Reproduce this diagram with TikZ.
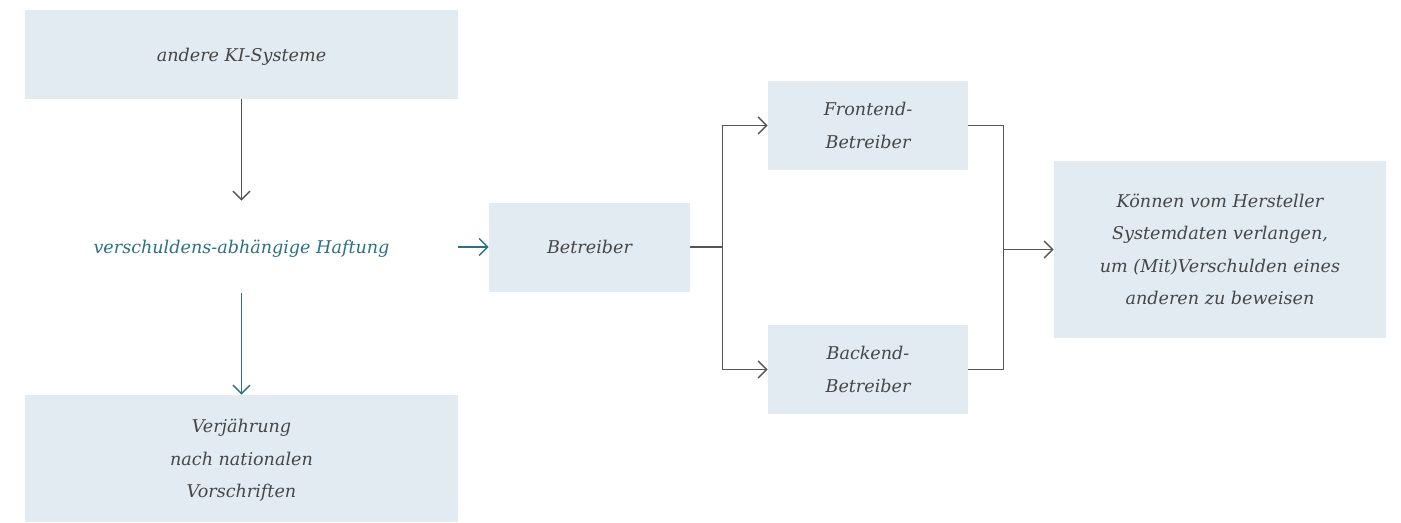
\documentclass[tikz,border=0pt]{standalone}
\usepackage{fontspec}
\setmainfont{DejaVu Serif}
\usepackage{xcolor}
\usepackage{tikz}
\usetikzlibrary{arrows.meta, positioning}

\definecolor{boxfill}{HTML}{E3EBF2}
\definecolor{textgray}{HTML}{464646}
\definecolor{linegray}{HTML}{555555}
\definecolor{haftteal}{HTML}{2B7086}

\begin{document}
\begin{tikzpicture}[
    block/.style={rectangle, fill=boxfill, text=textgray, align=center, inner sep=0pt, text depth=0pt,
        font=\itshape\fontsize{10}{18.5}\selectfont, minimum width=4cm, minimum height=1.78cm},
    wide/.style={block, minimum width=8.66cm},
    plain/.style={draw=linegray, line width=0.85pt},
    line/.style={plain, -{Straight Barb[length=0.17cm, width=0.34cm]}},
    tealline/.style={line, draw=haftteal}
]
\useasboundingbox (0,0) rectangle (28.02,10.44);

% Left column
\node[wide] (other) at (4.83,9.35) {andere KI-Systeme};
\node[wide, fill=none, text=haftteal, minimum height=1.84cm] (fault) at (4.83,5.50) {verschuldens-abhängige Haftung};
\node[wide, minimum height=2.54cm] (limit) at (4.83,1.27) {Verjährung\\nach nationalen\\Vorschriften};

% Operators
\node[block, minimum width=4.02cm] (operator) at (11.79,5.50) {Betreiber};
\node[block] (frontend) at (17.36,7.93) {Frontend-\\Betreiber};
\node[block] (backend) at (17.36,3.05) {Backend-\\Betreiber};
\node[block, minimum width=6.64cm, minimum height=3.54cm] (claim) at (24.40,5.45) {Können vom Hersteller\\Systemdaten verlangen,\\um (Mit)Verschulden eines\\anderen zu beweisen};

% Branch points
\coordinate[right=0.64cm of operator] (split);
\coordinate[left=1cm of claim] (join);

% Connections
\draw[line] (other) -- (fault);
\draw[tealline] (fault) -- (limit);
\draw[tealline] (fault) -- (operator);
\draw[line] (operator) -- (split) |- (frontend);
\draw[line] (split) |- (backend);
\draw[plain] (frontend) -| (join);
\draw[plain] (backend) -| (join);
\draw[line] (join) -- (claim);

\end{tikzpicture}
\end{document}
